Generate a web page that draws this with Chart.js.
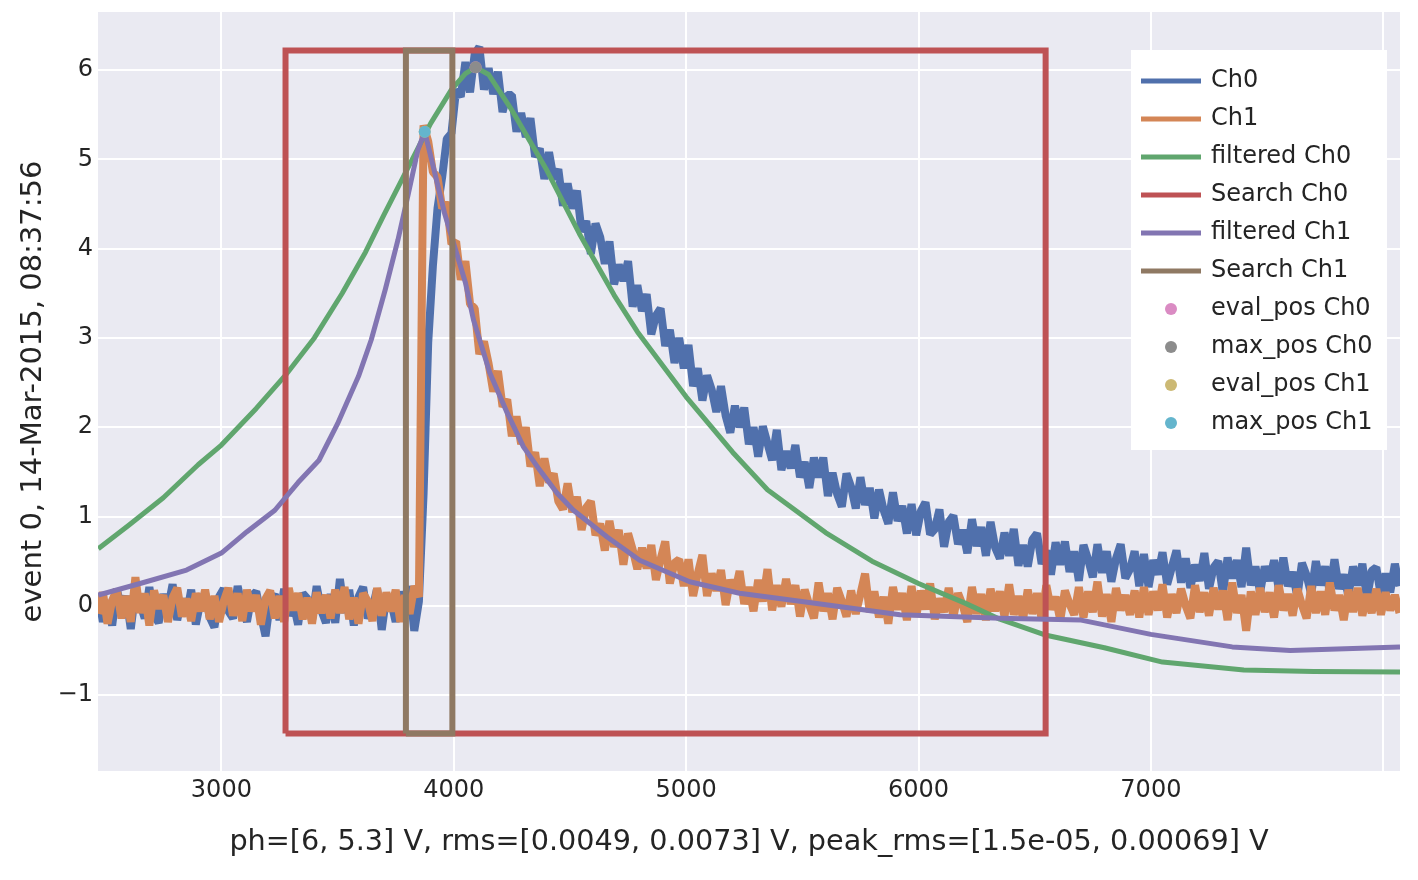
<!DOCTYPE html>
<html lang="en">
<head>
  <meta charset="UTF-8" />
  <title>event 0 traces</title>
  <script src="https://cdn.jsdelivr.net/npm/chart.js"></script>
  <style>
    body { margin: 0; background: #fff; }
    #wrap { width: 1418px; height: 880px; }
  </style>
</head>
<body>
<div id="wrap"><canvas id="traceChart" width="1418" height="880"></canvas></div>
<script>
// raw traces are sampled on a fixed time grid (ns), one row = 500 ns
const sampleStart = 2470;
const sampleStep = 20;

const ch0 = [
  0.14, -0.18, 0.06, -0.22, 0.19, -0.05, 0.11, -0.26, 0.16, 0.03, -0.14, 0.21, -0.10, -0.19, 0.13, -0.03, 0.24, -0.16, 0.08, -0.11, 0.18, -0.21, 0.05, 0.14, -0.13,
  -0.24, 0.10, 0.19, -0.06, -0.14, 0.22, -0.02, -0.18, 0.11, 0.16, -0.10, -0.34, 0.06, 0.13, -0.16, 0.19, -0.11, 0.03, -0.21, 0.14, 0.08, -0.16, 0.22, -0.05, -0.19,
  0.13, -0.19, 0.30, -0.08, 0.18, -0.22, 0.10, 0.21, -0.14, -0.03, 0.19, -0.27, 0.11, 0.05, -0.18, 0.16, -0.10, 0.22, -0.28, 0.05, 1.25, 2.95, 3.80, 4.45, 4.80,
  5.23, 5.29, 5.78, 5.70, 6.09, 5.75, 6.18, 6.26, 5.78, 6.02, 5.73, 5.98, 5.53, 5.72, 5.72, 5.31, 5.52, 5.25, 5.46, 5.03, 5.12, 4.78, 5.08, 4.78, 4.89,
  4.48, 4.73, 4.45, 4.65, 4.19, 4.31, 3.94, 4.28, 4.13, 3.83, 4.08, 3.60, 3.82, 3.64, 3.86, 3.35, 3.59, 3.30, 3.49, 3.04, 3.25, 3.33, 2.91, 3.09, 2.72,
  3.00, 2.66, 2.92, 2.46, 2.66, 2.30, 2.58, 2.42, 2.17, 2.46, 2.13, 1.94, 2.24, 2.00, 2.22, 1.81, 2.00, 1.67, 2.01, 1.82, 1.63, 1.97, 1.52, 1.73, 1.54,
  1.80, 1.44, 1.61, 1.32, 1.66, 1.44, 1.66, 1.23, 1.49, 1.25, 1.11, 1.48, 1.33, 1.09, 1.44, 1.13, 1.32, 0.98, 1.30, 1.07, 0.92, 1.27, 0.95, 1.12, 0.81,
  1.14, 0.79, 1.06, 1.16, 0.80, 0.86, 1.08, 0.66, 0.94, 1.01, 0.69, 0.85, 0.59, 0.97, 0.67, 0.88, 0.56, 0.94, 0.65, 0.53, 0.82, 0.56, 0.86, 0.45, 0.68,
  0.44, 0.74, 0.81, 0.47, 0.62, 0.35, 0.71, 0.46, 0.72, 0.38, 0.61, 0.28, 0.68, 0.52, 0.32, 0.69, 0.37, 0.61, 0.27, 0.53, 0.69, 0.31, 0.41, 0.61, 0.22,
  0.58, 0.21, 0.51, 0.35, 0.60, 0.24, 0.43, 0.62, 0.26, 0.53, 0.20, 0.46, 0.28, 0.59, 0.19, 0.43, 0.50, 0.14, 0.54, 0.31, 0.51, 0.21, 0.65, 0.23, 0.44,
  0.15, 0.44, 0.28, 0.51, 0.19, 0.54, 0.22, 0.38, 0.10, 0.48, 0.34, 0.13, 0.50, 0.23, 0.44, 0.15, 0.52, 0.19, 0.35, 0.11, 0.44, 0.23, 0.47, 0.08, 0.39,
  0.43, 0.11, 0.36, 0.15, 0.47, 0.22
];

const ch1 = [
  -0.09, 0.15, -0.20, 0.06, 0.18, -0.14, 0.11, -0.18, 0.32, -0.08, 0.14, -0.22, 0.17, -0.03, 0.12, -0.18, 0.09, 0.20, -0.12, 0.08, -0.17, 0.14, -0.06, 0.18, -0.15,
  0.11, -0.18, 0.05, 0.20, -0.11, 0.14, -0.17, 0.18, -0.06, 0.12, -0.21, 0.08, 0.17, -0.14, 0.11, -0.18, 0.20, -0.05, 0.14, -0.15, 0.09, -0.20, 0.15, -0.08, 0.12,
  -0.14, 0.18, -0.08, 0.21, -0.15, 0.09, -0.20, 0.14, 0.05, -0.17, 0.20, -0.11, 0.15, -0.06, 0.18, -0.18, 0.12, -0.09, 0.22, 0.10, 5.38, 5.20, 4.86, 4.80, 4.45,
  4.52, 4.05, 4.08, 3.65, 3.86, 3.38, 3.33, 2.82, 2.96, 2.71, 2.40, 2.63, 2.23, 2.31, 1.90, 2.12, 1.81, 2.00, 1.56, 1.72, 1.34, 1.65, 1.38, 1.48, 1.17,
  1.08, 1.37, 1.05, 1.22, 0.85, 1.10, 1.17, 0.79, 0.92, 0.62, 0.95, 0.66, 0.85, 0.46, 0.81, 0.63, 0.41, 0.65, 0.42, 0.68, 0.29, 0.52, 0.72, 0.25, 0.48,
  0.52, 0.22, 0.52, 0.11, 0.36, 0.57, 0.11, 0.36, 0.17, 0.40, 0.01, 0.29, 0.15, 0.39, 0.02, 0.21, -0.06, 0.29, 0.05, 0.41, -0.05, 0.23, -0.01, 0.30, 0.02,
  0.23, -0.12, 0.18, 0.01, -0.14, 0.26, -0.06, 0.14, -0.15, 0.20, 0.05, -0.12, 0.17, -0.09, 0.13, 0.36, -0.07, 0.16, -0.13, 0.10, -0.20, 0.21, -0.04, 0.14, -0.16,
  0.22, -0.12, 0.17, -0.04, 0.25, -0.15, 0.08, -0.07, 0.20, -0.13, 0.14, 0.01, -0.18, 0.21, -0.09, 0.13, -0.16, 0.19, -0.06, 0.16, -0.12, 0.24, -0.10, 0.11, -0.15,
  0.18, -0.09, 0.14, -0.15, 0.23, -0.04, 0.10, -0.16, 0.17, 0.02, -0.10, 0.21, -0.13, 0.16, -0.07, 0.27, -0.12, 0.13, -0.18, 0.20, -0.05, 0.12, -0.10, 0.17, -0.13,
  0.21, -0.10, 0.16, -0.05, 0.24, -0.13, 0.13, -0.08, 0.19, 0.00, -0.14, 0.23, -0.07, 0.15, -0.11, 0.20, -0.04, 0.17, -0.16, 0.26, -0.08, 0.12, -0.28, 0.16, -0.10,
  0.20, -0.07, 0.15, -0.13, 0.23, -0.05, 0.13, -0.11, 0.19, 0.01, -0.14, 0.22, -0.08, 0.16, -0.10, 0.26, -0.05, 0.12, -0.16, 0.18, -0.07, 0.20, -0.11, 0.13, -0.08,
  0.19, -0.10, 0.15, -0.05, 0.12, -0.08
];

// filtered traces (coarser)
const filtTimes0 = [2470, 2600, 2750, 2900, 3000, 3150, 3275, 3400, 3520, 3620, 3700, 3790, 3900, 3990, 4050, 4094, 4150, 4250, 4400, 4540, 4690, 4790, 5000, 5200, 5350, 5600, 5800, 6000, 6200, 6350, 6550, 6800, 7050, 7400, 7700, 8072];
const filtCh0 = [0.64, 0.90, 1.21, 1.58, 1.80, 2.21, 2.58, 3.00, 3.50, 3.96, 4.38, 4.84, 5.40, 5.78, 5.96, 6.03, 5.95, 5.55, 4.88, 4.17, 3.48, 3.07, 2.34, 1.72, 1.30, 0.82, 0.50, 0.25, 0.03, -0.15, -0.33, -0.47, -0.63, -0.72, -0.735, -0.74];

const filtTimes1 = [2470, 2650, 2850, 3000, 3110, 3230, 3330, 3420, 3500, 3590, 3645, 3705, 3760, 3805, 3845, 3875, 3960, 4050, 4085, 4155, 4230, 4300, 4370, 4445, 4515, 4660, 4800, 5015, 5230, 5490, 5920, 6350, 6700, 7000, 7350, 7600, 8072];
const filtCh1 = [0.12, 0.25, 0.40, 0.59, 0.83, 1.07, 1.38, 1.63, 2.04, 2.57, 2.98, 3.54, 4.10, 4.62, 5.10, 5.31, 4.40, 3.62, 3.20, 2.61, 2.16, 1.78, 1.52, 1.26, 1.07, 0.77, 0.51, 0.27, 0.14, 0.05, -0.10, -0.14, -0.16, -0.32, -0.46, -0.50, -0.46];

// search windows (outline)
const searchCh0X = [3276, 3276, 6547, 6547, 3276];
const searchCh0Y = [-1.43, 6.22, 6.22, -1.43, -1.43];
const searchCh1X = [3794, 3794, 3994, 3994, 3794];
const searchCh1Y = [-1.43, 6.22, 6.22, -1.43, -1.43];

// evaluated / maximum positions
const markerNames = ['eval_pos Ch0', 'max_pos Ch0', 'eval_pos Ch1', 'max_pos Ch1'];
const markerX = [4094, 4094, 3875, 3875];
const markerY = [6.03, 6.03, 5.31, 5.31];

const xTicks = [3000, 4000, 5000, 6000, 7000, 8000];
const yTicks = [-1, 0, 1, 2, 3, 4, 5, 6];

const xTitle = 'ph=[6, 5.3] V, rms=[0.0049, 0.0073] V, peak_rms=[1.5e-05, 0.00069] V';
const yTitle = 'event 0, 14-Mar-2015, 08:37:56';

const textColor = 'rgb(36,36,36)';
const fontFamily = "'DejaVu Sans', Verdana, sans-serif";

const sampled = vals => vals.map((v, i) => ({ x: sampleStart + i * sampleStep, y: v }));
const paired = (xs, ys) => xs.map((x, i) => ({ x, y: ys[i] }));

function lineSet(label, data, color, width, order, join) {
  return {
    label, data, order,
    borderColor: color, backgroundColor: color,
    borderWidth: width, pointRadius: 0, tension: 0, fill: false,
    borderJoinStyle: join || 'round', borderCapStyle: 'butt'
  };
}

const markerColors = ['rgb(218,139,195)', 'rgb(140,140,140)', 'rgb(204,185,116)', 'rgb(100,181,205)'];

const datasets = [
  lineSet('Ch0', sampled(ch0), 'rgb(80,112,172)', 8, 9, 'bevel'),
  lineSet('Ch1', sampled(ch1), 'rgb(212,134,86)', 8, 8, 'bevel'),
  lineSet('filtered Ch0', paired(filtTimes0, filtCh0), 'rgb(96,166,110)', 5, 7),
  lineSet('Search Ch0', paired(searchCh0X, searchCh0Y), 'rgb(190,82,84)', 6, 6, 'miter'),
  lineSet('filtered Ch1', paired(filtTimes1, filtCh1), 'rgb(130,117,178)', 5, 5),
  lineSet('Search Ch1', paired(searchCh1X, searchCh1Y), 'rgb(143,121,99)', 6, 4, 'miter')
];
markerNames.forEach((name, i) => {
  datasets.push({
    label: name,
    data: [{ x: markerX[i], y: markerY[i] }],
    order: 3 - i,
    showLine: false,
    pointRadius: 6,
    pointBorderWidth: 0,
    pointBackgroundColor: markerColors[i],
    borderColor: markerColors[i],
    backgroundColor: markerColors[i],
    isMarker: true
  });
});

const plotBg = {
  id: 'plotBg',
  beforeDraw(chart) {
    const { ctx, chartArea: a } = chart;
    ctx.save();
    ctx.fillStyle = 'rgb(234,234,242)';
    ctx.fillRect(a.left, a.top, a.right - a.left, a.bottom - a.top);
    ctx.restore();
  }
};

const insideLegend = {
  id: 'insideLegend',
  afterDraw(chart) {
    const ctx = chart.ctx;
    ctx.save();
    ctx.fillStyle = '#ffffff';
    ctx.fillRect(1131, 50, 256, 400);
    ctx.font = '24px ' + fontFamily;
    ctx.textBaseline = 'middle';
    chart.data.datasets.forEach((ds, i) => {
      const y = 81 + i * 38;
      if (ds.isMarker) {
        ctx.fillStyle = ds.pointBackgroundColor;
        ctx.beginPath();
        ctx.arc(1171, y, 6, 0, Math.PI * 2);
        ctx.fill();
      } else {
        ctx.strokeStyle = ds.borderColor;
        ctx.lineWidth = 5;
        ctx.beginPath();
        ctx.moveTo(1141, y);
        ctx.lineTo(1201, y);
        ctx.stroke();
      }
      ctx.fillStyle = textColor;
      ctx.fillText(ds.label, 1211, y);
    });
    ctx.restore();
  }
};

new Chart(document.getElementById('traceChart'), {
  type: 'line',
  data: { datasets },
  options: {
    responsive: false,
    animation: false,
    layout: { padding: { top: 12, right: 18, bottom: 0, left: 0 } },
    plugins: { legend: { display: false }, tooltip: { enabled: false } },
    scales: {
      x: {
        type: 'linear',
        min: 2469,
        max: 8072,
        afterBuildTicks: s => { s.ticks = xTicks.map(v => ({ value: v })); },
        afterFit: s => { s.height = 109; s.paddingLeft = 0; s.paddingRight = 0; },
        grid: { color: '#ffffff', lineWidth: 2, drawTicks: false },
        border: { display: false },
        ticks: {
          padding: 5,
          color: textColor,
          font: { family: fontFamily, size: 24 },
          maxRotation: 0,
          autoSkip: false,
          callback: v => (v === 8000 ? '' : String(v))
        },
        title: {
          display: true,
          text: xTitle,
          color: textColor,
          font: { family: fontFamily, size: 28.7 },
          padding: { top: 0, bottom: 20 }
        }
      },
      y: {
        type: 'linear',
        min: -1.85,
        max: 6.65,
        afterBuildTicks: s => { s.ticks = yTicks.map(v => ({ value: v })); },
        afterFit: s => { s.width = 98; s.paddingTop = 0; s.paddingBottom = 0; },
        grid: { color: '#ffffff', lineWidth: 2, drawTicks: false },
        border: { display: false },
        ticks: {
          padding: 5,
          color: textColor,
          font: { family: fontFamily, size: 24 },
          callback: v => (v < 0 ? '\u2212' + Math.abs(v) : String(v))
        },
        title: {
          display: true,
          text: yTitle,
          color: textColor,
          font: { family: fontFamily, size: 29 },
          padding: { top: 16, bottom: 0 }
        }
      }
    }
  },
  plugins: [plotBg, insideLegend]
});
</script>
</body>
</html>
